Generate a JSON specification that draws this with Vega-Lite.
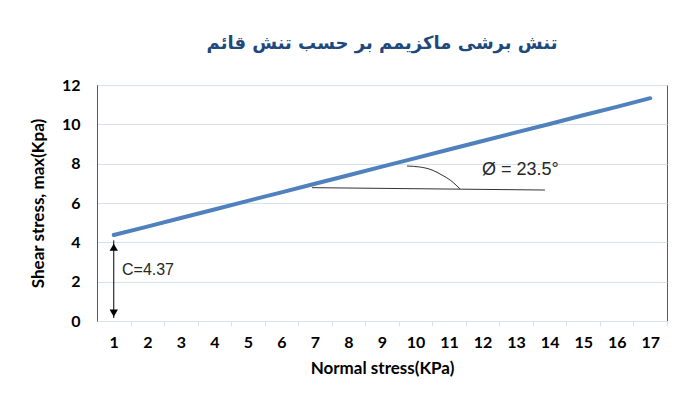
{
  "$schema": "https://vega.github.io/schema/vega-lite/v6.json",
  "width": 570,
  "height": 236,
  "autosize": {"type": "none"},
  "padding": {"left": 97, "top": 85, "right": 11, "bottom": 79},
  "background": "white",
  "title": {
    "text": "تنش برشی ماکزیمم بر حسب تنش قائم",
    "font": "DejaVu Sans",
    "fontSize": 18,
    "fontWeight": "bold",
    "color": "#1F497D",
    "anchor": "middle",
    "frame": "group",
    "offset": 24
  },
  "config": {
    "view": {"stroke": "#595959", "strokeWidth": 1},
    "axis": {
      "labelFont": "Lato",
      "labelFontWeight": "bold",
      "labelColor": "#000000",
      "labelFontSize": 16,
      "labelOverlap": false,
      "labelFlush": false,
      "titleFont": "Lato",
      "titleFontWeight": "bold",
      "titleColor": "#000000",
      "titleFontSize": 17
    }
  },
  "datasets": {
    "fit": [
      {"x": 1, "y": 4.37}, {"x": 2, "y": 4.80}, {"x": 3, "y": 5.24}, {"x": 4, "y": 5.67},
      {"x": 5, "y": 6.11}, {"x": 6, "y": 6.54}, {"x": 7, "y": 6.98}, {"x": 8, "y": 7.41},
      {"x": 9, "y": 7.85}, {"x": 10, "y": 8.28}, {"x": 11, "y": 8.72}, {"x": 12, "y": 9.15},
      {"x": 13, "y": 9.59}, {"x": 14, "y": 10.02}, {"x": 15, "y": 10.46}, {"x": 16, "y": 10.89},
      {"x": 17, "y": 11.33}
    ],
    "arc": [
      {"x": 9.745, "y": 7.88}, {"x": 10.13, "y": 7.83}, {"x": 10.49, "y": 7.68},
      {"x": 10.79, "y": 7.42}, {"x": 11.03, "y": 7.17}, {"x": 11.21, "y": 6.91},
      {"x": 11.33, "y": 6.71}
    ],
    "hline": [{"x": 6.91, "y": 6.78}, {"x": 13.86, "y": 6.66}],
    "vline": [{"x": 1, "y": 0.15, "y2": 4.1}],
    "heads": [{"x": 1, "y": 3.75, "shape": "triangle-up"}, {"x": 1, "y": 0.4, "shape": "triangle-down"}],
    "labels": [
      {"x": 1.245, "y": 2.59, "t": "C=4.37", "font": "Liberation Sans", "size": 16},
      {"x": 11.98, "y": 7.68, "t": "Ø = 23.5°", "font": "DejaVu Serif", "size": 18}
    ]
  },
  "encoding": {
    "x": {
      "field": "x", "type": "quantitative",
      "scale": {"domain": [0.5, 17.5], "nice": false, "zero": false},
      "axis": {
        "title": "Normal stress(KPa)",
        "values": [1,2,3,4,5,6,7,8,9,10,11,12,13,14,15,16,17],
        "tickCount": 17,
        "labelOverlap": false,
        "grid": false,
        "domainColor": "#D9E2F0",
        "tickColor": "#D9E2F0",
        "tickSize": 5,
        "tickOffset": 16.76,
        "labelOffset": -16.76,
        "labelPadding": 8,
        "titlePadding": 10
      }
    },
    "y": {
      "field": "y", "type": "quantitative",
      "scale": {"domain": [0, 12], "nice": false},
      "axis": {
        "title": "Shear stress, max(Kpa)",
        "values": [0, 2, 4, 6, 8, 10, 12],
        "tickCount": 12,
        "labelOverlap": false,
        "gridColor": "#D4E1F3",
        "domainColor": "#595959",
        "ticks": false,
        "labelPadding": 17,
        "titlePadding": 14
      }
    }
  },
  "layer": [
    {
      "data": {"name": "fit"},
      "mark": {"type": "line", "color": "#4F81BD", "strokeWidth": 4, "strokeCap": "round"}
    },
    {
      "data": {"name": "hline"},
      "mark": {"type": "line", "color": "#333333", "strokeWidth": 1}
    },
    {
      "data": {"name": "arc"},
      "mark": {"type": "line", "color": "#333333", "strokeWidth": 1, "interpolate": "monotone"}
    },
    {
      "data": {"name": "vline"},
      "mark": {"type": "rule", "color": "#000000", "strokeWidth": 1},
      "encoding": {"y2": {"field": "y2"}}
    },
    {
      "data": {"name": "heads"},
      "mark": {"type": "point", "filled": true, "color": "#000000", "size": 70, "opacity": 1},
      "encoding": {
        "shape": {"field": "shape", "type": "nominal", "scale": null, "legend": null}
      }
    },
    {
      "data": {"name": "labels"},
      "mark": {"type": "text", "align": "left", "baseline": "middle", "color": "#262626"},
      "encoding": {
        "text": {"field": "t"},
        "font": {"field": "font", "type": "nominal", "scale": null, "legend": null},
        "size": {"field": "size", "type": "quantitative", "scale": null, "legend": null}
      }
    }
  ]
}
